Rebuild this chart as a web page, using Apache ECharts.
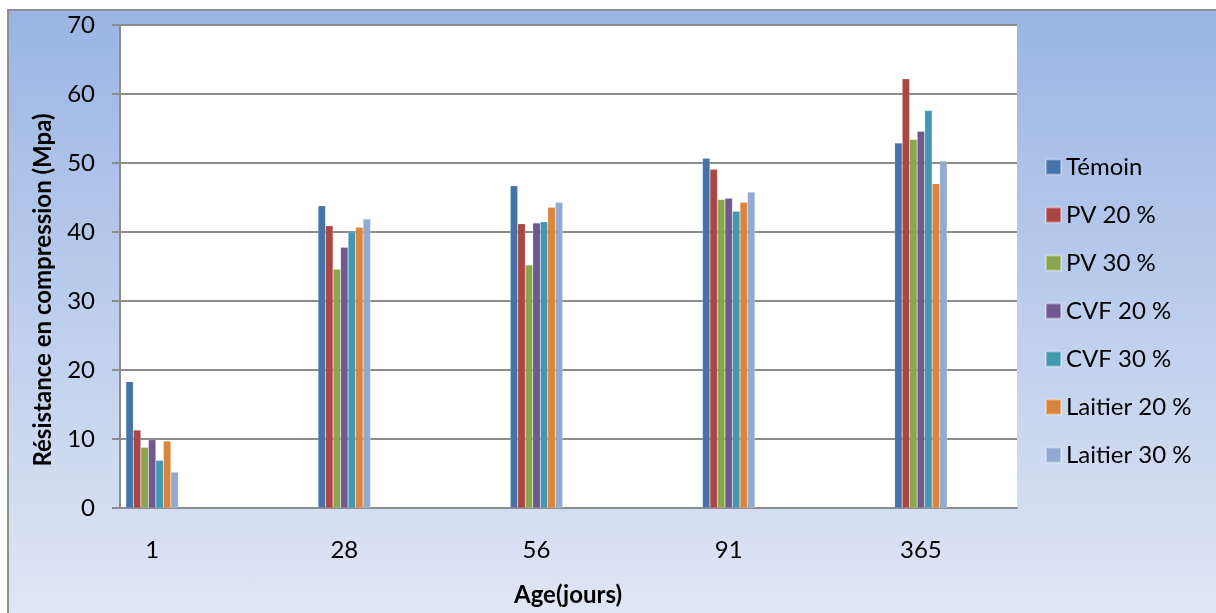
<!DOCTYPE html>
<html>
<head>
<meta charset="utf-8">
<script src="https://cdn.jsdelivr.net/npm/echarts@6/dist/echarts.min.js"></script>
<style>
html,body{margin:0;padding:0;background:#fff;}
#bg{position:absolute;left:7px;top:9px;width:1209px;height:602px;border:2px solid #8e8e8e;border-right:none;
background:linear-gradient(to bottom,#9ab5e3 0%,#b9cbec 45%,#dfe6f4 100%);}
#chart{position:absolute;left:0;top:0;width:1216px;height:613px;}
</style>
</head>
<body>
<div id="bg"></div>
<div id="chart"></div>
<script>
const categories = ['1', '28', '56', '91', '365'];
const seriesNames = ['Témoin', 'PV 20 %', 'PV 30 %', 'CVF 20 %', 'CVF 30 %', 'Laitier 20 %', 'Laitier 30 %'];
const temoin    = [18.3, 43.8, 46.7, 50.7, 52.9];
const pv20      = [11.3, 40.9, 41.2, 49.1, 62.2];
const pv30      = [8.8, 34.6, 35.2, 44.7, 53.4];
const cvf20     = [9.9, 37.8, 41.3, 44.9, 54.6];
const cvf30     = [6.9, 40.0, 41.5, 43.0, 57.6];
const laitier20 = [9.7, 40.7, 43.6, 44.3, 47.0];
const laitier30 = [5.2, 41.9, 44.3, 45.8, 50.3];
const yTicks = [0, 10, 20, 30, 40, 50, 60, 70];
const colors = ['#4572A7', '#AA4643', '#89A54E', '#71588F', '#4198AF', '#DB843D', '#93A9CF'];

const allData = [temoin, pv20, pv30, cvf20, cvf30, laitier20, laitier30];
const FONT = 'Lato, "Open Sans", sans-serif';

const chart = echarts.init(document.getElementById('chart'), null, {renderer: 'canvas'});
chart.setOption({
  backgroundColor: 'transparent',
  animation: false,
  color: colors,
  grid: [
    {left: 120, right: 199, top: 25, bottom: 105, show: true, backgroundColor: '#ffffff', borderWidth: 0},
    {left: 56, right: 199, top: 25, bottom: 105, show: false}
  ],
  xAxis: [
    {gridIndex: 0, type: 'category', data: categories, axisLine: {show: true, lineStyle: {color: '#8c8c8c', width: 2}},
     axisTick: {show: false}, axisLabel: {show: false}, splitLine: {show: false}},
    {gridIndex: 1, type: 'category', data: categories, axisLine: {show: false}, axisTick: {show: false},
     axisLabel: {color: '#000', fontFamily: FONT, fontSize: 24, margin: 30}}
  ],
  yAxis: [
    {gridIndex: 0, type: 'value', min: yTicks[0], max: yTicks[yTicks.length - 1], interval: 10,
     axisLine: {show: true, lineStyle: {color: '#8c8c8c', width: 2}},
     axisTick: {show: true, length: 8, lineStyle: {color: '#8c8c8c', width: 2}},
     axisLabel: {color: '#000', fontFamily: FONT, fontSize: 24, margin: 25},
     splitLine: {show: true, lineStyle: {color: '#8c8c8c', width: 2}}},
    {gridIndex: 1, type: 'value', min: yTicks[0], max: yTicks[yTicks.length - 1], interval: 10, show: false, splitLine: {show: false}}
  ],
  legend: {
    orient: 'vertical', left: 1045, top: 155, padding: 0, itemWidth: 15, itemHeight: 15, itemGap: 24,
    icon: 'rect', data: seriesNames,
    textStyle: {color: '#000', fontFamily: FONT, fontSize: 24, lineHeight: 24, padding: [0, 0, 0, 0]}
  },
  graphic: [
    {type: 'text', x: 43, y: 290, rotation: Math.PI / 2,
     style: {text: 'Résistance en compression (Mpa)', fill: '#000', font: 'bold 24px ' + FONT, textAlign: 'center', textVerticalAlign: 'middle'}},
    {type: 'text', x: 568, y: 595,
     style: {text: 'Age(jours)', fill: '#000', font: 'bold 24px ' + FONT, textAlign: 'center', textVerticalAlign: 'middle'}}
  ],
  series: seriesNames.map((n, i) => ({
    name: n, type: 'bar', xAxisIndex: 1, yAxisIndex: 1, data: allData[i],
    barWidth: 7.5, barGap: '0%',
    itemStyle: {color: colors[i], borderColor: 'rgba(255,255,255,0.35)', borderWidth: 0.5}
  }))
});
</script>
</body>
</html>
